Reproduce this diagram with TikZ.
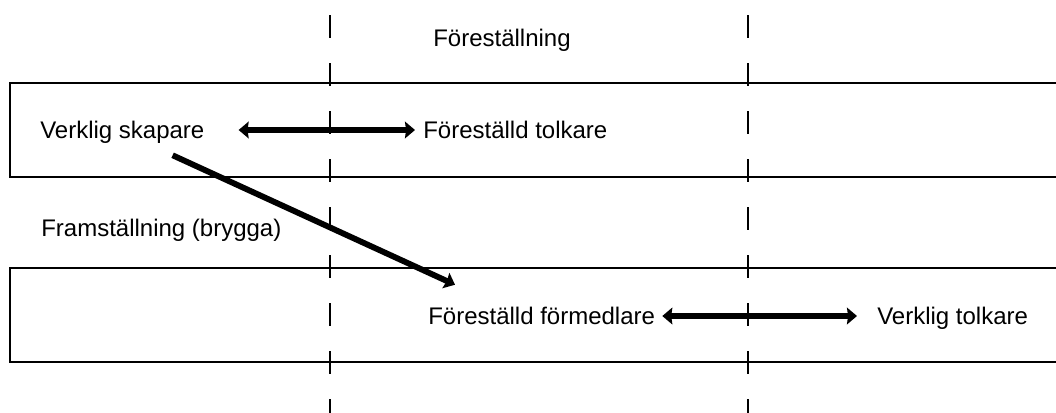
\documentclass[tikz,border=0pt]{standalone}
\usepackage{fontspec}
\setmainfont{Liberation Sans}
\usetikzlibrary{arrows.meta}
\begin{document}
\begin{tikzpicture}[x=0.75pt,y=-0.75pt,
  lbl/.style={anchor=base west,inner sep=0pt,font=\fontsize{18}{20}\selectfont,text height=12.75pt,text depth=3.75pt},
  band/.style={line width=1.6pt},
  divider/.style={line width=1.3pt,dash pattern=on 17.25pt off 18.75pt},
  link/.style={line width=4.4pt,-{Stealth[length=7.5pt,width=12.5pt,inset=0.8pt]}},
  twoway/.style={line width=4.4pt,{Stealth[length=7.5pt,width=12.5pt,inset=0.8pt]}-{Stealth[length=7.5pt,width=12.5pt,inset=0.8pt]}}]
\useasboundingbox (0,0) rectangle (1056,412);
% dashed dividers
\coordinate (d1t) at (330,15);
\coordinate (d1b) at (330,420);
\coordinate (d2t) at (748,15);
\coordinate (d2b) at (748,420);
\draw[divider] (d1t) -- (d1b);
\draw[divider] (d2t) -- (d2b);
% bands (open to the right)
\draw[band] (1062,83) -- (10,83) -- (10,177) -- (1062,177);
\draw[band] (1062,268) -- (10,268) -- (10,362) -- (1062,362);
% labels
\node[lbl] (title) at (433,46) {Föreställning};
\node[lbl] (vs) at (40,138) {Verklig skapare};
\node[lbl] (ft) at (423,138) {Föreställd tolkare};
\node[lbl] (fb) at (41,236) {Framställning (brygga)};
\node[lbl] (ff) at (428,324) {Föreställd förmedlare};
\node[lbl] (vt) at (877,324) {Verklig tolkare};
% connectors
\draw[twoway] ([shift={(34,-2)}]vs.east) -- ([shift={(-8,-2)}]ft.west);
\draw[twoway] ([shift={(7,-2)}]ff.east) -- ([shift={(-20,-2)}]vt.west);
\draw[link] ([shift={(-32,12)}]vs.south east) -- ([shift={(27,-22)}]ff.north west);
\end{tikzpicture}
\end{document}
